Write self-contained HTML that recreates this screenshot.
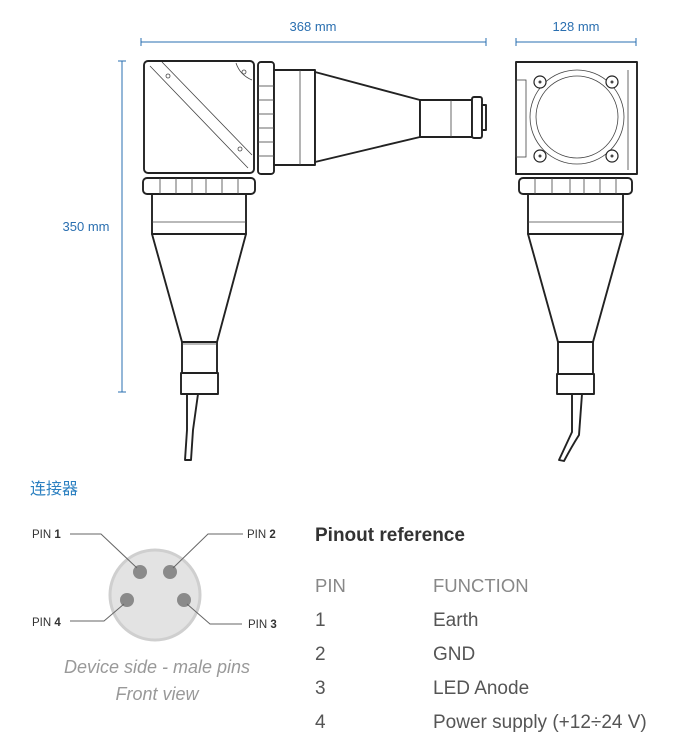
<!DOCTYPE html>
<html><head><meta charset="utf-8"><style>
html,body{margin:0;padding:0;background:#fff;}
svg{display:block;}
text{font-family:"Liberation Sans","Noto Sans CJK SC",sans-serif;}
</style></head><body>
<svg width="682" height="754" viewBox="0 0 682 754" xmlns="http://www.w3.org/2000/svg">
<g stroke="#2a6fb0" stroke-width="1" fill="none">
<line x1="141" y1="42" x2="486" y2="42"/><line x1="141" y1="38" x2="141" y2="46"/><line x1="486" y1="38" x2="486" y2="46"/>
<line x1="516" y1="42" x2="636" y2="42"/><line x1="516" y1="38" x2="516" y2="46"/><line x1="636" y1="38" x2="636" y2="46"/>
<line x1="122" y1="61" x2="122" y2="392"/><line x1="118" y1="61" x2="126" y2="61"/><line x1="118" y1="392" x2="126" y2="392"/>
</g>
<g fill="#2a6fb0" font-size="13">
<text x="313" y="31" text-anchor="middle">368 mm</text>
<text x="576" y="31" text-anchor="middle">128 mm</text>
<text x="86" y="231" text-anchor="middle">350 mm</text>
</g>
<g stroke="#222" stroke-width="1.9" fill="#fff" stroke-linejoin="round">
<rect x="144" y="61" width="110" height="112" rx="4"/>
<rect x="258" y="62" width="16" height="112" rx="3"/>
<rect x="274" y="70" width="41" height="95"/>
<polygon points="315,72 420,100 420,137 315,162"/>
<rect x="420" y="100" width="52" height="37"/>
<rect x="472" y="97" width="10" height="41" rx="2"/>
<rect x="482" y="105" width="4" height="25"/>
<rect x="143" y="178" width="112" height="16" rx="4"/>
<rect x="152" y="194" width="94" height="40"/>
<polygon points="152,234 246,234 217,342 182,342"/>
<rect x="182" y="342" width="35" height="31"/>
<rect x="181" y="373" width="37" height="21"/>
<path d="M187,394 L187,430 L185,460 L191,460 L193,430 L198,394 Z"/>
</g>
<g stroke="#444" stroke-width="0.8" fill="none">
<line x1="150" y1="66" x2="248" y2="168"/><line x1="162" y1="62" x2="252" y2="155"/>
<path d="M236,63 Q240,75 252,80"/>
<circle cx="168" cy="76" r="2"/><circle cx="240" cy="149" r="2"/><circle cx="244" cy="72" r="2"/>
<line x1="258" y1="86" x2="274" y2="86"/><line x1="258" y1="100" x2="274" y2="100"/><line x1="258" y1="114" x2="274" y2="114"/><line x1="258" y1="128" x2="274" y2="128"/><line x1="258" y1="142" x2="274" y2="142"/><line x1="258" y1="156" x2="274" y2="156"/>
<line x1="300" y1="70" x2="300" y2="165"/><line x1="451" y1="100" x2="451" y2="137"/>
<line x1="160" y1="178" x2="160" y2="194"/><line x1="176" y1="178" x2="176" y2="194"/><line x1="192" y1="178" x2="192" y2="194"/><line x1="206" y1="178" x2="206" y2="194"/><line x1="222" y1="178" x2="222" y2="194"/><line x1="238" y1="178" x2="238" y2="194"/>
<line x1="152" y1="222" x2="246" y2="222"/><line x1="182" y1="344" x2="217" y2="344"/>
</g>
<g stroke="#222" stroke-width="1.9" fill="#fff" stroke-linejoin="round">
<rect x="516" y="62" width="121" height="112"/>
<rect x="519" y="178" width="113" height="16" rx="4"/>
<rect x="528" y="194" width="95" height="40"/>
<polygon points="528,234 623,234 593,342 558,342"/>
<rect x="558" y="342" width="35" height="32"/>
<rect x="557" y="374" width="37" height="20"/>
<path d="M572,394 L572,432 Q566,445 559,460 L564,461 Q572,446 579,435 L582,394 Z"/>
</g>
<g stroke="#444" stroke-width="0.8" fill="none">
<circle cx="577" cy="117" r="47"/><circle cx="577" cy="117" r="41"/>
<rect x="516" y="80" width="10" height="77"/><line x1="628" y1="70" x2="628" y2="170"/>
<line x1="535" y1="178" x2="535" y2="194"/><line x1="552" y1="178" x2="552" y2="194"/><line x1="570" y1="178" x2="570" y2="194"/><line x1="584" y1="178" x2="584" y2="194"/><line x1="600" y1="178" x2="600" y2="194"/><line x1="616" y1="178" x2="616" y2="194"/>
<line x1="528" y1="222" x2="623" y2="222"/>
</g>
<g stroke="#222" stroke-width="1.2" fill="#fff">
<circle cx="540" cy="82" r="6"/><circle cx="612" cy="82" r="6"/><circle cx="540" cy="156" r="6"/><circle cx="612" cy="156" r="6"/>
</g>
<g fill="#444"><circle cx="540" cy="82" r="1.5"/><circle cx="612" cy="82" r="1.5"/><circle cx="540" cy="156" r="1.5"/><circle cx="612" cy="156" r="1.5"/></g>
<text x="30" y="494" font-size="16" fill="#2a7fc0" font-family="'Liberation Sans','Noto Sans CJK SC',sans-serif">连接器</text>
<circle cx="155" cy="595" r="45" fill="#e3e3e3" stroke="#cfcfcf" stroke-width="3"/>
<g fill="#8a8a8a"><circle cx="140" cy="572" r="7"/><circle cx="170" cy="572" r="7"/><circle cx="127" cy="600" r="7"/><circle cx="184" cy="600" r="7"/></g>
<g stroke="#666" stroke-width="1" fill="none">
<polyline points="70,534 101,534 137,568"/>
<polyline points="243,534 208,534 173,568"/>
<polyline points="70,621 104,621 124,604"/>
<polyline points="242,624 210,624 187,604"/>
</g>
<g font-size="11.5" fill="#333">
<text x="32" y="538">PIN <tspan font-weight="bold">1</tspan></text>
<text x="247" y="538">PIN <tspan font-weight="bold">2</tspan></text>
<text x="32" y="626">PIN <tspan font-weight="bold">4</tspan></text>
<text x="248" y="628">PIN <tspan font-weight="bold">3</tspan></text>
</g>
<g font-size="18" fill="#999" font-style="italic" text-anchor="middle">
<text x="157" y="673">Device side - male pins</text>
<text x="157" y="700">Front view</text>
</g>
<text x="315" y="541" font-size="19" font-weight="bold" fill="#333">Pinout reference</text>
<g font-size="18.5" fill="#888">
<text x="315" y="592">PIN</text>
<text x="433" y="592">FUNCTION</text>
</g>
<g font-size="19" fill="#555">
<text x="315" y="626">1</text><text x="433" y="626">Earth</text>
<text x="315" y="660">2</text><text x="433" y="660">GND</text>
<text x="315" y="694">3</text><text x="433" y="694">LED Anode</text>
<text x="315" y="728">4</text><text x="433" y="728">Power supply (+12÷24 V)</text>
</g>
</svg>
</body></html>
